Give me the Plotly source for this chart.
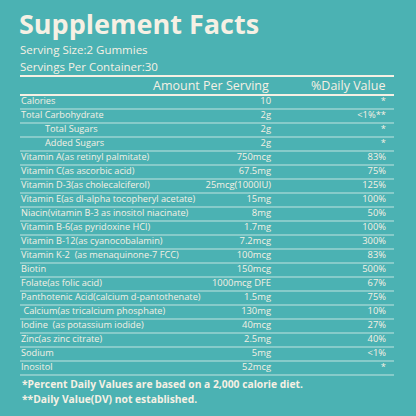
import plotly.graph_objects as go

# table contents
nutrients = [
    'Calories', 'Total Carbohydrate', 'Total Sugars', 'Added Sugars',
    'Vitamin A(as retinyl palmitate)', 'Vitamin C(as ascorbic acid)',
    'Vitamin D-3(as cholecalciferol)', 'Vitamin E(as dl-alpha tocopheryl acetate)',
    'Niacin(vitamin B-3 as inositol niacinate)', 'Vitamin B-6(as pyridoxine HCl)',
    'Vitamin B-12(as cyanocobalamin)', 'Vitamin K-2  (as menaquinone-7 FCC)',
    'Biotin', 'Folate(as folic acid)', 'Panthotenic Acid(calcium d-pantothenate)',
    ' Calcium(as tricalcium phosphate)', 'Iodine  (as potassium iodide)',
    'Zinc(as zinc citrate)', 'Sodium', 'Inositol',
]
amounts = [
    '10', '2g', '2g', '2g', '750mcg', '67.5mg', '25mcg(1000IU)', '15mg',
    '8mg', '1.7mg', '7.2mcg', '100mcg', '150mcg', '1000mcg DFE', '1.5mg',
    '130mg', '40mcg', '2.5mg', '5mg', '52mcg',
]
daily_values = [
    '*', '<1%**', '*', '*', '83%', '75%', '125%', '100%', '50%', '100%',
    '300%', '83%', '500%', '67%', '75%', '10%', '27%', '40%', '<1%', '*',
]
indented = [False, False, True, True] + [False] * 16

BG = '#4bb2b3'
TXT = '#f6f0e4'
FONT = 'Open Sans'

rows = list(range(len(nutrients)))
label_x = [45 if ind else 21 for ind in indented]

fig = go.Figure()
fig.add_trace(go.Scatter(
    x=label_x, y=rows, text=nutrients, mode='text', textposition='middle right',
    textfont=dict(family=FONT, size=9.2, color=TXT), hoverinfo='skip'))
fig.add_trace(go.Scatter(
    x=[271] * len(rows), y=rows, text=amounts, mode='text', textposition='middle left',
    textfont=dict(family=FONT, size=9.4, color=TXT), hoverinfo='skip'))
fig.add_trace(go.Scatter(
    x=[386] * len(rows), y=rows, text=daily_values, mode='text', textposition='middle left',
    textfont=dict(family=FONT, size=9.4, color=TXT), hoverinfo='skip'))

# row separators
for r in rows:
    fig.add_shape(type='line', x0=20, x1=394, y0=r + 0.5, y1=r + 0.5,
                  line=dict(color='rgba(235,245,240,0.75)', width=1))
for y in [-1.86, -0.5]:
    fig.add_shape(type='line', x0=20, x1=394, y0=y, y1=y,
                  line=dict(color=TXT, width=2))

ann = [
    ('Supplement Facts', 18, 23, 27, True),
    ('Serving Size:2 Gummies', 19, 49.5, 11.5, False),
    ('Servings Per Container:30', 19, 66, 11.5, False),
    ('*Percent Daily Values are based on a 2,000 calorie diet.', 21, 384, 10.3, True),
    ('**Daily Value(DV) not established.', 21, 399, 10.3, True),
]
for text, x, y, size, bold in ann:
    fig.add_annotation(
        text=f'<b>{text}</b>' if bold else text, x=x / 416, y=1 - y / 416,
        xref='paper', yref='paper', xanchor='left', yanchor='middle', showarrow=False,
        borderpad=0, font=dict(family=FONT, size=size, color=TXT))
for text, x in [('Amount Per Serving', 271), ('%Daily Value', 387)]:
    fig.add_annotation(
        text=text, x=x / 416, y=1 - 86 / 416, xref='paper', yref='paper',
        xanchor='right', yanchor='middle', showarrow=False,
        font=dict(family=FONT, size=12.5, color=TXT))

fig.update_xaxes(range=[0, 416], visible=False)
fig.update_yaxes(range=[(416 - 102) / 14, -102 / 14], visible=False)
fig.update_layout(
    width=416, height=416, margin=dict(l=0, r=0, t=0, b=0),
    paper_bgcolor=BG, plot_bgcolor=BG, showlegend=False)

fig.write_html('out.html', config={'displayModeBar': False},
               post_script="document.body.style.margin='0';")
